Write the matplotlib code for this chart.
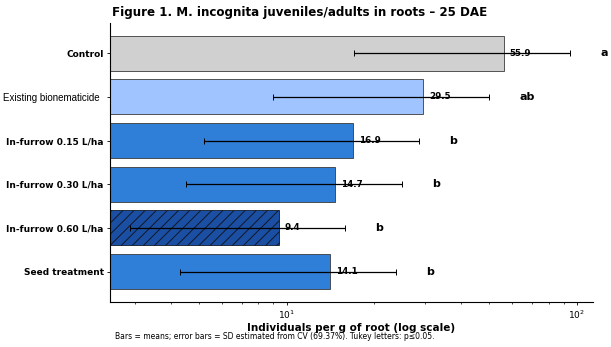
import matplotlib
matplotlib.use("Agg")
import matplotlib.pyplot as plt
import numpy as np

categories = ["Control", "Existing bionematicide", "In-furrow 0.15 L/ha",
              "In-furrow 0.30 L/ha", "In-furrow 0.60 L/ha", "Seed treatment"]
means = [55.9, 29.5, 16.9, 14.7, 9.4, 14.1]
sd = [38.8, 20.5, 11.7, 10.2, 6.5, 9.8]
letters = ["a", "ab", "b", "b", "b", "b"]
colors = ["#d0d0d0", "#a0c4ff", "#2f7ed8", "#2f7ed8", "#1b4fa3", "#2f7ed8"]
hatches = ["", "", "", "", "///", ""]

plt.rcParams["hatch.linewidth"] = 0.7
plt.rcParams["hatch.color"] = "#101828"
fig = plt.figure(figsize=(6.11, 3.47), dpi=100)
ax = fig.add_axes([0.18, 0.13, 0.7905, 0.804])

y = np.arange(len(categories))
bars = ax.barh(y, means, height=0.8, color=colors, edgecolor="#3a3a3a", linewidth=0.6, zorder=2)
for b, h in zip(bars, hatches):
    if h:
        b.set_hatch(h)
        b.set_edgecolor("#101828")
ax.errorbar(means, y, xerr=sd, fmt="none", ecolor="black", elinewidth=0.9,
            capsize=2.5, capthick=0.7, zorder=4)
ax.set_xscale("log")
lo = min(m - s for m, s in zip(means, sd))
hi = max(m + s for m, s in zip(means, sd))
ax.set_xlim(lo * 0.85, hi * 1.2)
ax.invert_yaxis()
ax.set_yticks(y)
ax.set_yticklabels(categories, fontsize=6.5, fontweight="bold")
ax.tick_params(axis="y", length=2.5, width=0.6, pad=2)
ax.tick_params(axis="x", which="major", labelsize=6.5, length=2.5, width=0.6, pad=2)
ax.tick_params(axis="x", which="minor", length=1.5, width=0.5)
for tick, lbl in zip(ax.yaxis.get_major_ticks(), ax.get_yticklabels()):
    if lbl.get_text() == "Existing bionematicide":
        lbl.set_fontweight("normal")
        lbl.set_family(["Liberation Sans Narrow", "Liberation Sans"])
        lbl.set_fontsize(7)
        tick.set_pad(5)
for sp in ax.spines.values():
    sp.set_linewidth(0.8)

for yi, m, s, L in zip(y, means, sd, letters):
    ax.text(m * 1.05, yi, f"{m:.1f}", va="center", ha="left", fontsize=6.3,
            fontweight="bold", zorder=3)
    ax.text((m + s) * 1.27, yi, L, va="center", ha="left", fontsize=8, fontweight="bold")

ax.spines["top"].set_visible(False)
ax.spines["right"].set_visible(False)
ax.set_xlabel("Individuals per g of root (log scale)", fontsize=7.5, fontweight="bold", labelpad=2)
fig.text(0.491, 0.965, "Figure 1. M. incognita juveniles/adults in roots – 25 DAE", fontsize=8.6,
         fontweight="bold", ha="center", va="center")
fig.text(0.188, 0.022, "Bars = means; error bars = SD estimated from CV (69.37%). Tukey letters: p≤0.05.",
         ha="left", fontsize=5.5)
fig.savefig("out.png", dpi=100)
